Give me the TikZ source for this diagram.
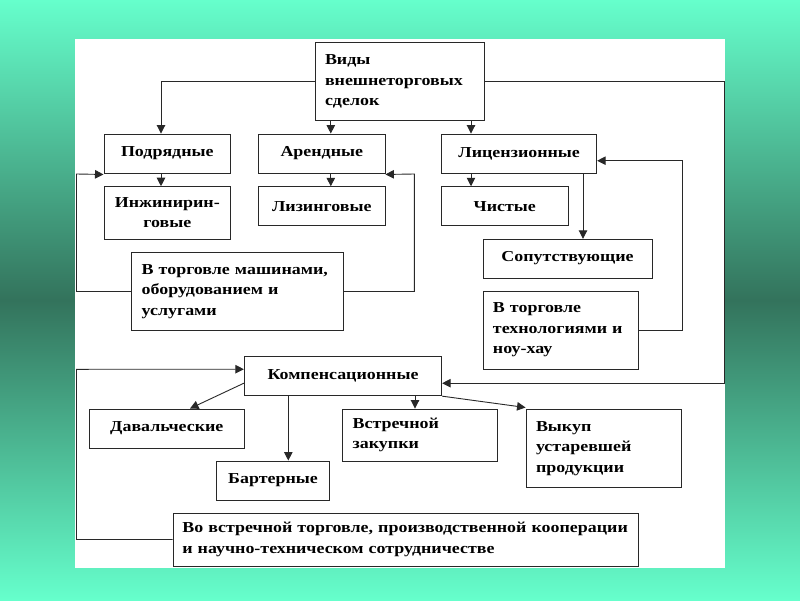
\documentclass[tikz,border=0pt]{standalone}
\usepackage{fontspec}
\setmainfont{Liberation Serif}[FakeStretch=1.18]
\usetikzlibrary{arrows.meta, calc}
\definecolor{SlideLight}{RGB}{102, 255, 204}
\definecolor{SlideDark}{RGB}{51, 115, 92}
\definecolor{FrameGray}{RGB}{40, 40, 40}
\newcommand{\boxfont}{\fontsize{15.2}{20.5}\selectfont\bfseries}

\begin{document}
\begin{tikzpicture}[x=1pt, y=-1pt,
		box/.style={draw=FrameGray, line width=0.9pt, fill=white, inner sep=0pt, font=\boxfont},
		lbox/.style={align=left, inner xsep=10pt, text width=#1},
		arr/.style={-{Triangle[length=8.5pt, width=8.5pt]}, line width=0.9pt, draw=FrameGray}]
	% Фон слайда
	\shade[top color=SlideLight, bottom color=SlideLight, middle color=SlideDark] (0,0) rectangle (800,600);
	\fill[white] (75,39) rectangle (725,568);

	% Верхний уровень
	\node[box, lbox=149, minimum width=169, minimum height=78] (vid) at (399.5,81.7) {Виды\\внешнеторговых\\сделок};
	\node[box, minimum width=126.7, minimum height=39] (podr) at (167.3,153.5) {Подрядные};
	\node[box, minimum width=126.3, minimum height=39] (arend) at (321.8,153.5) {Арендные};
	\node[box, minimum width=155, minimum height=39] (lic) at (519.2,153.5) {Лицензионные};
	\node[box, align=center, minimum width=126.7, minimum height=52.3] (inzh) at (167.3,212.8) {Инжинирин-\\говые};
	\node[box, minimum width=126.3, minimum height=39] (lizing) at (321.8,206.2) {Лизинговые};
	\node[box, minimum width=126.3, minimum height=39] (chist) at (504.8,206.2) {Чистые};
	\node[box, lbox=191.6, minimum width=211.6, minimum height=78.4] (mash) at (237.5,291.5) {В торговле машинами,\\оборудованием и\\услугами};
	\node[box, minimum width=169, minimum height=38.7] (soput) at (567.5,258.6) {Сопутствующие};
	\node[box, lbox=135.7, minimum width=155.7, minimum height=78] (tech) at (560.8,330) {В торговле\\технологиями и\\ноу-хау};

	% Компенсационные
	\node[box, minimum width=197.4, minimum height=39] (komp) at (343,376.2) {Компенсационные};
	\node[box, minimum width=155, minimum height=39.3] (daval) at (166.8,428.6) {Давальческие};
	\node[box, minimum width=112.6, minimum height=39] (barter) at (273,480.5) {Бартерные};
	\node[box, lbox=135, minimum width=155, minimum height=52] (vstr) at (420.2,435) {Встречной\\закупки};
	\node[box, lbox=135, minimum width=155, minimum height=78.7] (vykup) at (603.5,448.3) {Выкуп\\устаревшей\\продукции};
	\node[box, lbox=447, inner xsep=9.35pt, minimum width=465.7, minimum height=53] (vstrtorg) at (405.8,539.5) {Во встречной торговле, производственной кооперации\\и научно-техническом сотрудничестве};

	% Точки изломов
	\coordinate (rgt) at (724,81.7);
	\coordinate (tr) at (682,160.7);
	\coordinate (lft) at (76.5,174);
	\coordinate (mr) at (414.3,174);
	\coordinate (lb) at (76.5,369.3);

	% Связи
	\draw[arr] (vid.west) -| ([xshift=-6.3pt]podr.north);
	\draw[arr] ([xshift=9pt]arend.north |- vid.south) -- ([xshift=9pt]arend.north);
	\draw[arr] ([xshift=-48.2pt]lic.north |- vid.south) -- ([xshift=-48.2pt]lic.north);
	\draw[arr] (vid.east) -- (rgt) |- ([yshift=-7pt]komp.east);
	\draw[arr] ([xshift=-6.3pt]podr.south) -- ([xshift=-6.3pt]podr.south |- inzh.north);
	\draw[arr] ([xshift=9pt]arend.south) -- ([xshift=9pt]arend.south |- lizing.north);
	\draw[arr] ([xshift=-48.2pt]lic.south) -- ([xshift=-48.2pt]lic.south |- chist.north);
	\draw[arr] ([xshift=63.8pt]lic.south) -- ([xshift=63.8pt]lic.south |- soput.north);
	\draw[arr] (tech.east) -| (tr) -- ([yshift=-7.2pt]lic.east);
	\draw[arr] (mash.west) -| (lft) -- ([yshift=-1pt]podr.south west);
	\draw[arr] (mash.east) -| (mr) -- ([yshift=-1pt]arend.south east);
	\draw[arr] ([yshift=-7pt]komp.west) -- ([xshift=23.2pt]daval.north);
	\draw[arr] ([xshift=-54.7pt]komp.south) -- ([xshift=-54.7pt]komp.south |- barter.north);
	\draw[arr] ([xshift=72pt]komp.south) -- ([xshift=72pt]komp.south |- vstr.north);
	\draw[arr] (komp.south east) -- ([yshift=1pt]vykup.north west);
	\draw[arr] (vstrtorg.west) -| (lb) -- ([yshift=7pt]komp.west);
\end{tikzpicture}
\end{document}
